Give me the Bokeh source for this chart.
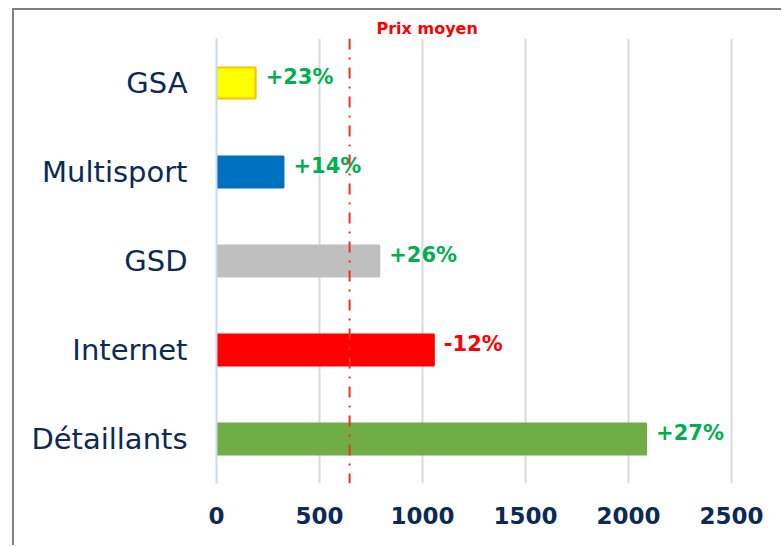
from bokeh.plotting import figure
from bokeh.models import FactorRange, Range1d, FixedTicker, Span, ColumnDataSource
from bokeh.core.properties import value
from bokeh.embed import file_html
from bokeh.resources import INLINE

# ---- data ----
categories = ["GSA", "Multisport", "GSD", "Internet", "Détaillants"]
prices = [190, 325, 790, 1055, 2085]
changes = ["+23%", "+14%", "+26%", "-12%", "+27%"]
mean_price = 646
mean_label = "Prix moyen"
x_ticks = [0, 500, 1000, 1500, 2000, 2500]

# ---- styles ----
bar_colors = ["#ffff00", "#0070c0", "#bfbfbf", "#ff0000", "#70ad47"]
bar_lines = ["#ffc000", "#0070c0", "#bfbfbf", "#ff0000", "#70ad47"]
change_colors = ["#00b050", "#00b050", "#00b050", "#ff0000", "#00b050"]
NAVY = "#0c2a55"

src = ColumnDataSource(dict(cat=categories, price=prices, change=changes,
                            fill=bar_colors, line=bar_lines, tcol=change_colors))

p = figure(
    y_range=FactorRange(factors=categories[::-1], range_padding=0),
    x_range=Range1d(0, 2650),
    frame_width=546, frame_height=445,
    min_border_left=202, min_border_top=28, min_border_bottom=62, min_border_right=19,
    output_backend="svg", toolbar_location=None,
)
p.styles = {"border-left": "2px solid #808080", "border-top": "2px solid #808080",
            "margin-left": "12px", "margin-top": "8px"}
p.outline_line_color = None
p.background_fill_color = "white"

# "Prix moyen" caption above the plot area, next to the mean line
p.title.text = mean_label
p.title.text_color = "#ff0000"
p.title.text_font = "DejaVu Sans"
p.title.text_font_style = "bold"
p.title.text_font_size = "16px"
p.title.align = "left"
p.title.offset = 160
p.title.standoff = 2

p.hbar(y="cat", left=0, right="price", height=0.35, fill_color="fill",
       line_color="line", line_width=2, source=src)

p.text(x="price", y="cat", text="change", text_color="tcol", source=src,
       x_offset=10, y_offset=-6, text_align="left", text_baseline="middle",
       text_font=value("DejaVu Sans"), text_font_style="bold", text_font_size="21px")

p.add_layout(Span(location=mean_price, dimension="height", line_color="#ee3224",
                  line_width=2, line_dash="11 8 2 8"))

# grid
p.ygrid.grid_line_color = None
p.xgrid.grid_line_color = "#d9d9d9"
p.xgrid.grid_line_width = 2
p.xaxis.ticker = FixedTicker(ticks=x_ticks)
p.xgrid.ticker = FixedTicker(ticks=x_ticks)

# x axis
xa = p.xaxis[0]
xa.axis_line_color = None
xa.major_tick_line_color = None
xa.minor_tick_line_color = None
xa.major_tick_out = 0
xa.major_tick_in = 0
xa.major_label_standoff = 23
xa.major_label_text_font = "DejaVu Sans"
xa.major_label_text_font_style = "bold"
xa.major_label_text_font_size = "23px"
xa.major_label_text_color = NAVY

# y axis
ya = p.yaxis[0]
ya.axis_line_color = "#c6dbf0"
ya.axis_line_width = 2
ya.major_tick_line_color = None
ya.minor_tick_line_color = None
ya.major_tick_out = 0
ya.major_tick_in = 0
ya.major_label_standoff = 29
ya.major_label_text_font = "DejaVu Sans"
ya.major_label_text_font_size = "29px"
ya.major_label_text_color = NAVY

open("out.html", "w").write(file_html(p, INLINE))
